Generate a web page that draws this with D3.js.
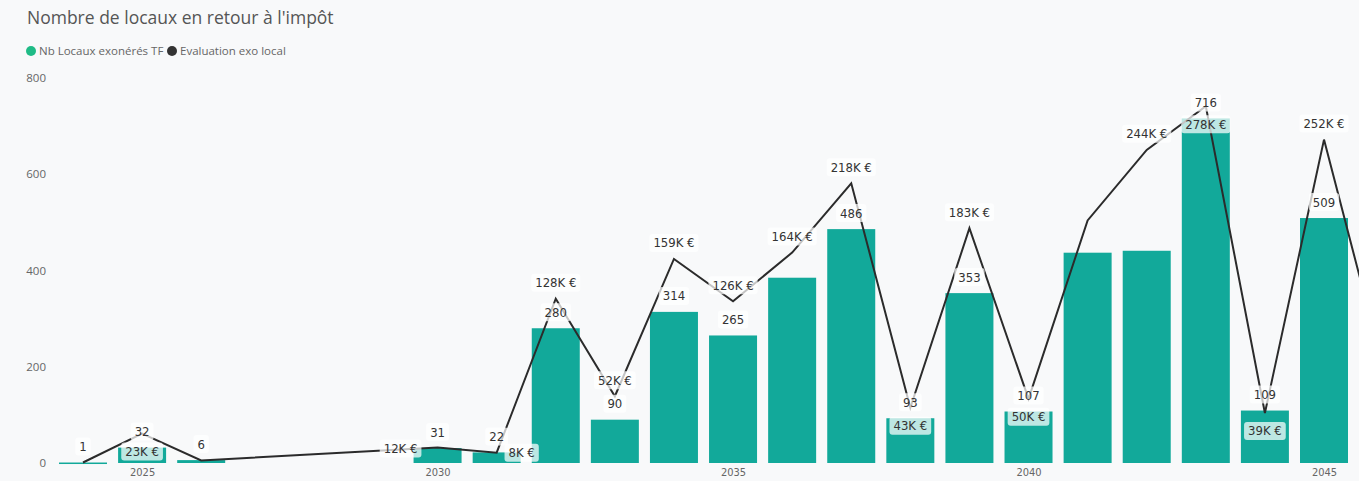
<!DOCTYPE html>
<html>
<head>
<meta charset="utf-8">
<script src="https://cdn.jsdelivr.net/npm/d3@7"></script>
<style>
  body { margin: 0; background: #f8f9fa; }
  svg { display: block; }
</style>
</head>
<body>
<svg id="chart" width="1359" height="481"></svg>
<script>
// data
const years = [2024, 2025, 2026, 2030, 2031, 2032, 2033, 2034, 2035, 2036, 2037, 2038, 2039, 2040, 2041, 2042, 2043, 2044, 2045, 2046];
const nbLocaux = [1, 32, 6, 31, 22, 280, 90, 314, 265, 385, 486, 93, 353, 107, 437, 441, 716, 109, 509, null];
const evalK = [0.4, 23, 2, 12, 8, 128, 52, 159, 126, 164, 218, 43, 183, 50, 189, 244, 278, 39, 252, 75];
const yTicks = [0, 200, 400, 600, 800];
const xTicks = [2025, 2030, 2035, 2040, 2045];

// which labels power bi managed to show, and where
const barLabelHidden = [2036, 2041, 2042, 2046];
const lineLabelSide = {2025: "below", 2030: "left", 2031: "right", 2032: "above", 2033: "above",
  2034: "above", 2035: "above", 2036: "above", 2037: "above", 2038: "below", 2039: "above",
  2040: "below", 2042: "above", 2043: "below", 2044: "below", 2045: "above"};

const width = 1359, height = 481;
const barColor = "#12a99a", lineColor = "#2b2b2b", textColor = "#666";
const labelFont = "'DejaVu Sans Condensed', 'Liberation Sans Narrow', sans-serif";
const uiFont = "'Open Sans', sans-serif";

let svg = d3.select("#chart");
svg.append("rect").attr("width", width).attr("height", height).attr("fill", "#f8f9fa");

let xScale = d3.scaleLinear().domain([2024, 2045]).range([83, 1324]);
let yScale = d3.scaleLinear().domain([0, 800]).range([463, 78]);
let y2Scale = d3.scaleLinear().domain([0, 300]).range([463, 78]);
let barW = 48;

// title + legend
svg.append("text")
    .attr("x", 27).attr("y", 24)
    .style("font-family", uiFont)
    .style("font-size", "17.5px")
    .style("fill", "#555")
    .text("Nombre de locaux en retour à l'impôt");

let legend = [["Nb Locaux exonérés TF", "#1fbb86", 31], ["Evaluation exo local", "#333", 172]];
legend.forEach(function(d) {
    svg.append("circle").attr("cx", d[2]).attr("cy", 51).attr("r", 5).attr("fill", d[1]);
    svg.append("text")
        .attr("x", d[2] + 8).attr("y", 55)
        .style("font-family", uiFont)
        .style("font-size", "11.5px")
        .style("fill", "#666")
        .text(d[0]);
});

// y axis (labels only)
let yAxis = svg.append("g")
    .attr("transform", "translate(46, 0)")
    .call(d3.axisLeft(yScale).tickValues(yTicks).tickSize(0).tickPadding(0));
yAxis.select("path").remove();
yAxis.selectAll("text")
    .style("font-family", uiFont)
    .style("font-size", "11.5px")
    .style("fill", textColor);

// x axis (labels only)
let xAxis = svg.append("g")
    .attr("transform", "translate(0, 467)")
    .call(d3.axisBottom(xScale).tickValues(xTicks).tickFormat(d3.format("d")).tickSize(0).tickPadding(1));
xAxis.select("path").remove();
xAxis.selectAll("text")
    .style("font-family", labelFont)
    .style("font-size", "11px")
    .style("fill", textColor);

let plot = svg.append("g");
let rows = years.map(function(y, i) { return {year: y, n: nbLocaux[i], v: evalK[i]}; });

// bars
plot.selectAll("rect.bar")
    .data(rows.filter(function(d) { return d.n != null; }))
    .enter().append("rect")
    .attr("class", "bar")
    .attr("x", function(d) { return xScale(d.year) - barW / 2; })
    .attr("y", function(d) { return yScale(d.n); })
    .attr("width", barW)
    .attr("height", function(d) { return Math.max(1.5, yScale(0) - yScale(d.n)); })
    .attr("fill", barColor);

// line
let line = d3.line()
    .x(function(d) { return xScale(d.year); })
    .y(function(d) { return y2Scale(d.v); });
plot.append("path")
    .datum(rows)
    .attr("d", line)
    .attr("fill", "none")
    .attr("stroke", lineColor)
    .attr("stroke-width", 2)
    .attr("stroke-linejoin", "miter");

// data labels with semi transparent background
function drawLabel(cx, cy, txt) {
    let g = svg.append("g");
    let t = g.append("text")
        .attr("x", cx).attr("y", cy + 4.5)
        .attr("text-anchor", "middle")
        .style("font-family", labelFont)
        .style("font-size", "13px")
        .style("fill", "#333")
        .text(txt);
    let w = t.node().getComputedTextLength();
    g.insert("rect", "text")
        .attr("x", cx - w / 2 - 4).attr("y", cy - 9)
        .attr("width", w + 8).attr("height", 18)
        .attr("rx", 3)
        .attr("fill", "#fff")
        .attr("fill-opacity", 0.72);
}

rows.forEach(function(d) {
    if (d.n != null && barLabelHidden.indexOf(d.year) < 0) {
        drawLabel(xScale(d.year), yScale(d.n) - 16, d3.format("d")(d.n));
    }
});

rows.forEach(function(d) {
    let side = lineLabelSide[d.year];
    if (!side) return;
    let px = xScale(d.year), py = y2Scale(d.v);
    let txt = Math.round(d.v) + "K €";
    if (side == "above") drawLabel(px, py - 16, txt);
    else if (side == "below") drawLabel(px, py + 18, txt);
    else if (side == "left") drawLabel(px - 37, py + 1, txt);
    else drawLabel(px + 25, py, txt);
});
</script>
</body>
</html>
